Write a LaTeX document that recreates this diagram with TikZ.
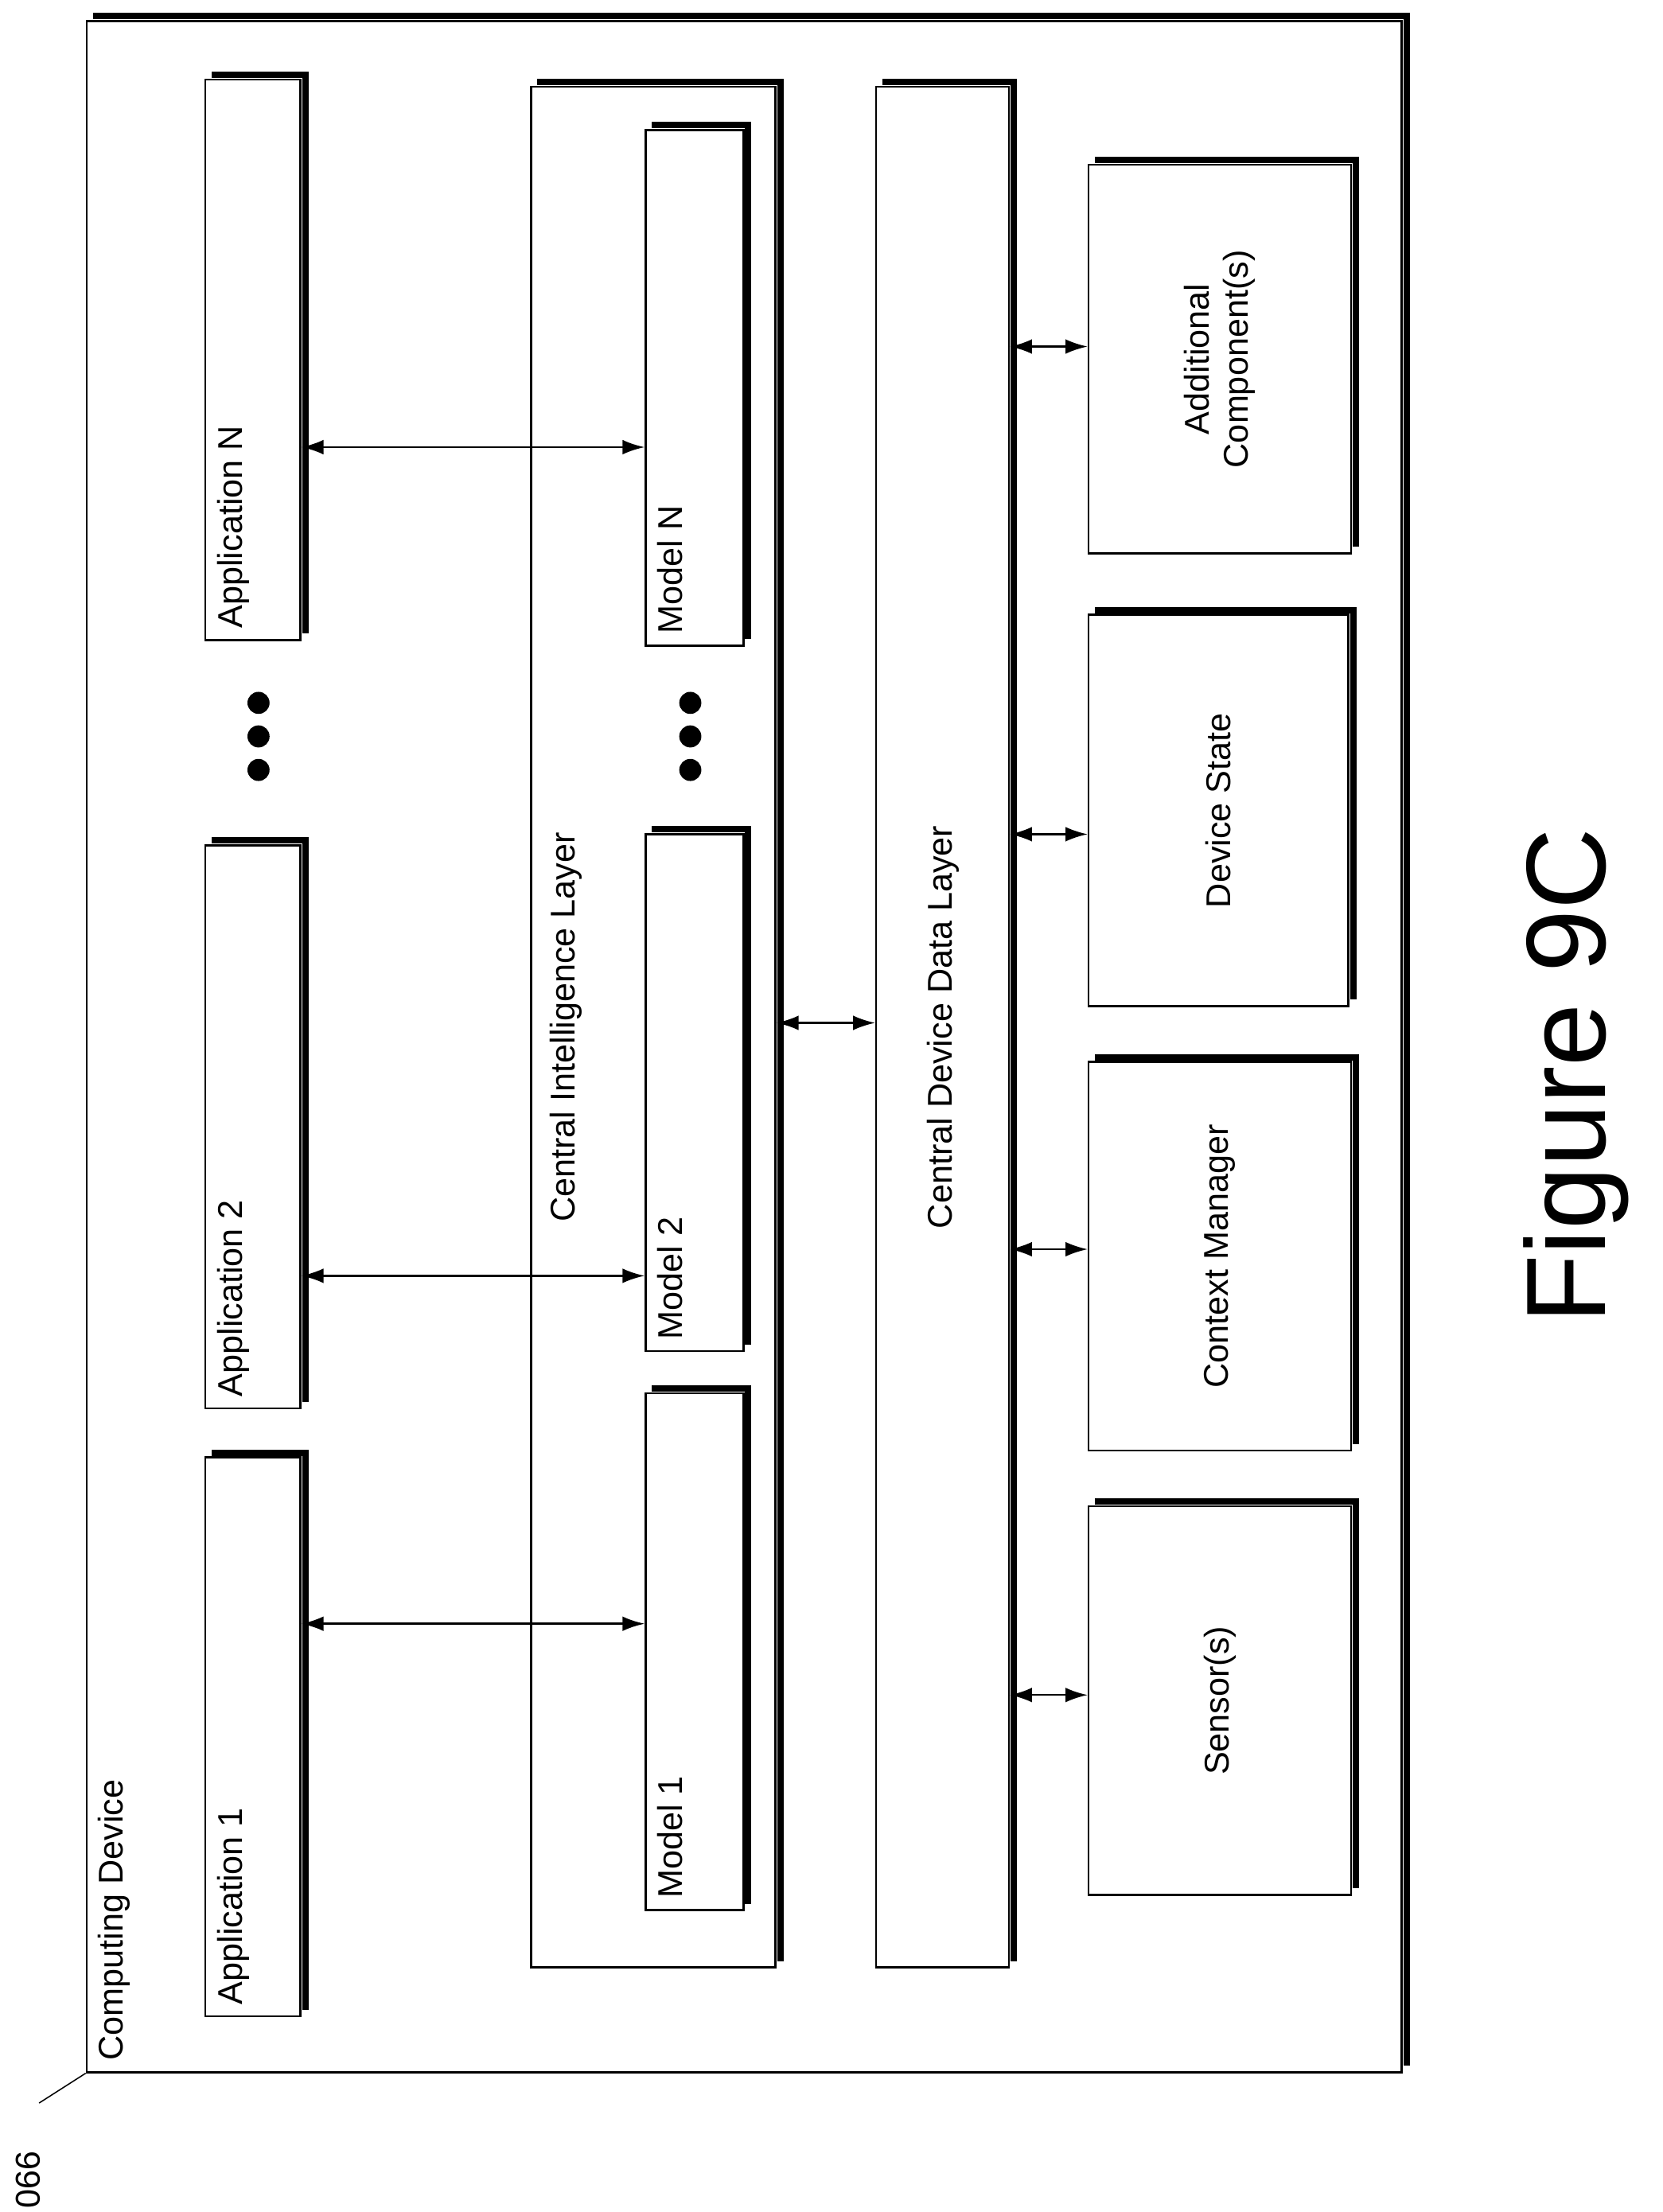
\documentclass[tikz,border=0pt]{standalone}
\usepackage{fontspec}
\setmainfont{Liberation Sans}
\usetikzlibrary{fit,arrows.meta}
\tikzset{
  box/.style={draw,line width=0.8pt,inner sep=0pt},
  lbl/.style={rotate=90,font=\fontsize{14}{16}\selectfont,inner sep=2pt},
  inlbl/.style={lbl,anchor=north west,inner sep=5pt},
  link/.style={{Latex[length=9pt,width=6pt]}-{Latex[length=9pt,width=6pt]},line width=0.8pt},
  dot/.style={circle,fill,inner sep=0pt,minimum size=9pt}
}
% box with a heavy shadow along top and right
\newcommand{\shadowbx}[5]{%
  \node (#1) [box,fit={(#2,#3)(#4,#5)}] {};
  \draw[line width=2.6pt] ([shift={(3pt,1.6pt)}]#1.north west) -- ([shift={(1.6pt,1.6pt)}]#1.north east) -- ([shift={(1.6pt,3pt)}]#1.south east);
}
\begin{document}
\begin{tikzpicture}[x=0.02cm,y=-0.02cm]
  \useasboundingbox (0,0) rectangle (1190,1583);
  % outer device
  \shadowbx{dev}{62}{15}{1003}{1483}
  \node[inlbl] at (dev.south west) {Computing Device};
  \node[rotate=-90,font=\fontsize{14}{16}\selectfont] at (20,1560) {990};
  \draw[line width=0.5pt] (28,1505) -- (dev.south west);

  % applications
  \shadowbx{app1}{147}{1043}{215}{1443}
  \shadowbx{app2}{147}{605}{215}{1008}
  \shadowbx{appn}{147}{57}{215}{458}
  \node[inlbl] at (app1.south west) {Application 1};
  \node[inlbl] at (app2.south west) {Application 2};
  \node[inlbl] at (appn.south west) {Application N};

  % intelligence layer
  \shadowbx{cil}{380}{62}{555}{1408}
  \node[lbl] at (405,735) {Central Intelligence Layer};
  \shadowbx{m1}{462}{997}{532}{1367}
  \shadowbx{m2}{462}{597}{532}{967}
  \shadowbx{mn}{462}{93}{532}{462}
  \node[inlbl] at (m1.south west) {Model 1};
  \node[inlbl] at (m2.south west) {Model 2};
  \node[inlbl] at (mn.south west) {Model N};

  % data layer
  \shadowbx{cdl}{627}{62}{722}{1408}
  \node[lbl] at (675,735) {Central Device Data Layer};

  % components
  \shadowbx{add}{779}{118}{967}{396}
  \shadowbx{ds}{779}{440}{965}{720}
  \shadowbx{cm}{779}{760}{967}{1038}
  \shadowbx{sen}{779}{1078}{967}{1356}
  \node[lbl,align=center] at (add) {Additional\\Component(s)};
  \node[lbl] at (ds) {Device State};
  \node[lbl] at (cm) {Context Manager};
  \node[lbl] at (sen) {Sensor(s)};

  % ellipses
  \foreach \y in {503,527,551}{
    \node[dot] at (185,\y) {};
    \node[dot] at (494,\y) {};
  }

  % links
  \draw[link] (app1.east |- 0,1162) -- (m1.west |- 0,1162);
  \draw[link] (app2.east |- 0,913) -- (m2.west |- 0,913);
  \draw[link] (appn.east |- 0,320) -- (mn.west |- 0,320);
  \draw[link] (cil.east |- 0,732) -- (cdl.west |- 0,732);
  \draw[link] (cdl.east |- 0,248) -- (add.west |- 0,248);
  \draw[link] (cdl.east |- 0,597) -- (ds.west |- 0,597);
  \draw[link] (cdl.east |- 0,894) -- (cm.west |- 0,894);
  \draw[link] (cdl.east |- 0,1213) -- (sen.west |- 0,1213);

  \node[rotate=90,font=\fontsize{46}{50}\selectfont] (fig) at (1128,770) {Figure 9C};
\end{tikzpicture}
\end{document}
